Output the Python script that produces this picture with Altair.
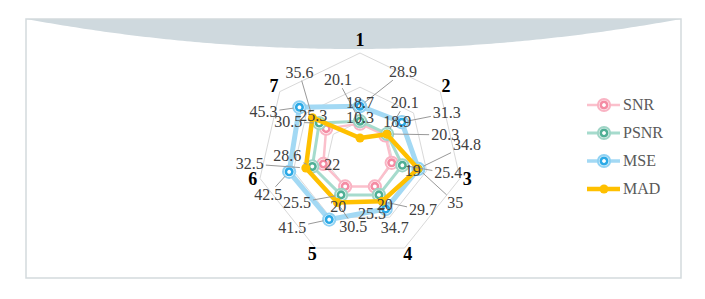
import math
import numpy as np
import pandas as pd
import altair as alt

# ---------------- data ----------------
axis_names = ["1", "2", "3", "4", "5", "6", "7"]
series_names = ["SNR", "PSNR", "MSE", "MAD"]
snr = [18.7, 18.9, 19, 20, 20, 22, 25.3]
psnr = [20.1, 20.3, 25.4, 25.5, 25.5, 28.6, 30.5]
mse = [28.9, 31.3, 35, 34.7, 41.5, 42.5, 45.3]
mad = [10.3, 20.1, 34.8, 29.7, 30.5, 32.5, 35.6]
grid_levels = [20, 40, 60]

values = {"SNR": snr, "PSNR": psnr, "MSE": mse, "MAD": mad}

# ---------------- styles / layout ----------------
styles = {
    "SNR":  dict(line="#fbc0cc", lw=2.5, outer="#f9b3c3", inner="#f48ca4", ring=True),
    "PSNR": dict(line="#a6dbcd", lw=3.0, outer="#9fd5c6", inner="#4faf95", ring=True),
    "MSE":  dict(line="#a3d9f4", lw=5.0, outer="#90d2f3", inner="#2ba9e6", ring=True),
    "MAD":  dict(line="#ffc000", lw=4.5, outer="#ffc000", inner="#ffc000", ring=False),
}
# data-label offsets in px from the point (dx, dy, leader line?)
label_offsets = {
    "SNR":  [(0, -21, 0), (12, -13, 0), (21, 8, 0), (10, 19, 0), (-7, 21, 0), (9, 1, 0), (-13, -13, 0)],
    "PSNR": [(-22, -41, 1), (58, 1, 1), (46, 8, 1), (-7, 19, 0), (-44, 8, 1), (-25, -10, 1), (-31, -1, 1)],
    "MSE":  [(43, -34, 1), (45, -9, 1), (37, 34, 1), (9, 19, 0), (-37, 8, 1), (-21, 23, 1), (-36, 5, 1)],
    "MAD":  [(0, -20, 0), (18, -31, 1), (49, -24, 1), (41, 9, 1), (16, 24, 1), (-56, -4, 1), (-13, -45, 1)],
}
axis_label_radius_px = [115, 110, 110, 110, 110, 110, 110]

K = 1.71             # px per unit on the radial axis
W, H = 680, 275      # plot area
OX, OY = 8, 8        # page margin
CXp, CYp = 360.0, 155.6
cx, cy = CXp - OX, CYp - OY
XD = [-cx / K, (W - cx) / K]
YD = [-(H - cy) / K, cy / K]


def ux(px):
    return (px - OX - cx) / K


def uy(py):
    return (cy - (py - OY)) / K


def ang(i):
    return math.pi / 2 - 2 * math.pi * i / 7


SERIF = "Liberation Serif"
X = lambda f: alt.X(f, type="quantitative", scale=alt.Scale(domain=XD, nice=False, zero=False), axis=None)
Y = lambda f: alt.Y(f, type="quantitative", scale=alt.Scale(domain=YD, nice=False, zero=False), axis=None)

layers = []

# ---- decorative header arc ----
xs = np.linspace(26, 681, 160)
arc_df = pd.DataFrame({
    "x": [ux(v) for v in xs],
    "y": [uy(19)] * len(xs),
    "y2": [uy(19 + 30 * (1 - ((v - 353.5) / 327.5) ** 2)) for v in xs],
})
layers.append(alt.Chart(arc_df).mark_area(color="#cfd9de", opacity=1).encode(
    x=X("x"), y=Y("y"), y2="y2:Q"))

# ---- border ----
layers.append(alt.Chart(pd.DataFrame({"a": [0]})).mark_rect(
    fill="transparent", stroke="#d3dadd", strokeWidth=1.5).encode(
    x=alt.value(26 - OX), x2=alt.value(681 - OX), y=alt.value(19 - OY), y2=alt.value(278 - OY)))

# ---- grid rings ----
grid_rows = []
for lv in grid_levels:
    for k in range(8):
        i = k % 7
        grid_rows.append(dict(level=lv, order=k, x=lv * math.cos(ang(i)), y=lv * math.sin(ang(i))))
layers.append(alt.Chart(pd.DataFrame(grid_rows)).mark_line(color="#d9d9d9", strokeWidth=1).encode(
    x=X("x"), y=Y("y"), detail="level:N", order="order:Q"))

# ---- axis names ----
an_rows = []
for i, name in enumerate(axis_names):
    r = axis_label_radius_px[i] / K
    an_rows.append(dict(t=name, x=r * math.cos(ang(i)), y=r * math.sin(ang(i))))
layers.append(alt.Chart(pd.DataFrame(an_rows)).mark_text(
    font=SERIF, fontSize=18, fontWeight="bold", color="#000000", align="center", baseline="middle").encode(
    x=X("x"), y=Y("y"), text="t:N"))


def marker_layers(df, st):
    out = []
    if st["ring"]:
        out.append(alt.Chart(df).mark_circle(size=150, fill="white", stroke=st["outer"], strokeWidth=2, opacity=1).encode(
            x=X("x"), y=Y("y")))
        out.append(alt.Chart(df).mark_circle(size=42, fill="white", stroke=st["inner"], strokeWidth=2.6, opacity=1).encode(
            x=X("x"), y=Y("y")))
    else:
        out.append(alt.Chart(df).mark_circle(size=80, color=st["inner"], opacity=1).encode(
            x=X("x"), y=Y("y")))
    return out


# ---- series ----
for s in series_names:
    vals = values[s]
    st = styles[s]
    rows = []
    for k in range(8):
        i = k % 7
        rows.append(dict(order=k, x=vals[i] * math.cos(ang(i)), y=vals[i] * math.sin(ang(i))))
    df = pd.DataFrame(rows)
    layers.append(alt.Chart(df).mark_line(color=st["line"], strokeWidth=st["lw"], strokeJoin="round").encode(
        x=X("x"), y=Y("y"), order="order:Q"))
    layers.extend(marker_layers(df[df.order < 7], st))

# ---- data labels + leaders ----
lab_rows, lead_rows = [], []
for s in series_names:
    vals = values[s]
    for i, v in enumerate(vals):
        px = v * math.cos(ang(i))
        py = v * math.sin(ang(i))
        dx, dy, lead = label_offsets[s][i]
        lx, ly = px + dx / K, py - dy / K
        txt = f"{v:g}"
        lab_rows.append(dict(t=txt, x=lx, y=ly))
        if lead:
            # leader from label box edge toward the point (pixel space)
            ddx, ddy = -dx, -dy
            hw = (len(txt) * 8 - (4 if "." in txt else 0)) / 2 + 2
            hh = 8
            t = min(hw / abs(ddx) if ddx else 1e9, hh / abs(ddy) if ddy else 1e9)
            sx, sy = dx + t * ddx, dy + t * ddy
            d = math.hypot(ddx, ddy)
            ex, ey = -(ddx / d) * 6, -(ddy / d) * 6
            if math.hypot(sx, sy) > 7:
                lead_rows.append(dict(x=px + sx / K, y=py - sy / K, x2=px + ex / K, y2=py - ey / K))

layers.append(alt.Chart(pd.DataFrame(lead_rows)).mark_rule(color="#999999", strokeWidth=1).encode(
    x=X("x"), y=Y("y"), x2="x2:Q", y2="y2:Q"))
layers.append(alt.Chart(pd.DataFrame(lab_rows)).mark_text(
    font=SERIF, fontSize=16, color="#404040", align="center", baseline="middle").encode(
    x=X("x"), y=Y("y"), text="t:N"))

# ---- legend ----
for k, s in enumerate(series_names):
    st = styles[s]
    yy = uy(105 + 28 * k)
    ldf = pd.DataFrame({"x": [ux(587)], "x2": [ux(620)], "y": [yy]})
    layers.append(alt.Chart(ldf).mark_rule(color=st["line"], strokeWidth=st["lw"] if s != "MSE" else 3.5).encode(
        x=X("x"), x2="x2:Q", y=Y("y")))
    mdf = pd.DataFrame({"x": [ux(604)], "y": [yy]})
    layers.extend(marker_layers(mdf, st))
    tdf = pd.DataFrame({"x": [ux(623)], "y": [yy], "t": [s]})
    layers.append(alt.Chart(tdf).mark_text(
        font=SERIF, fontSize=16, color="#595959", align="left", baseline="middle").encode(
        x=X("x"), y=Y("y"), text="t:N"))

chart = alt.layer(*layers).properties(
    width=W, height=H, padding=0, background="white",
    autosize=alt.AutoSizeParams(type="none"),
).configure_view(stroke="transparent")

chart.save("out.html", embed_options={"renderer": "svg", "actions": False})
